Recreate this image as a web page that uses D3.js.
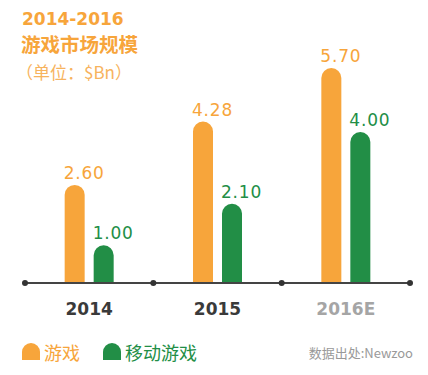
<!DOCTYPE html>
<html>
  <head>
    <meta charset="utf-8">
    <style>
    body { margin: 0; background: #fff; }
    svg text { font-family: "DejaVu Sans", "Noto Sans CJK SC", sans-serif; }
    .cjk { font-family: "Noto Sans CJK SC", sans-serif !important; }
    </style>
    <script src="https://d3js.org/d3.v7.min.js"></script>
  </head>
  <body>
    <script>
    // data
    var years = ["2014", "2015", "2016E"];
    var games = [2.60, 4.28, 5.70];
    var mobileGames = [1.00, 2.10, 4.00];
    var seriesNames = ["游戏", "移动游戏"];
    var colors = ["#F7A53B", "#228E46"];

    var width = 428, height = 375;
    var baseY = 283;

    var svg = d3.select("body").append("svg")
        .attr("width", width)
        .attr("height", height);

    var x = d3.scaleBand()
        .domain(years)
        .range([25, 410])
        .padding(0);

    var y = d3.scaleLinear()
        .domain([0, 5.70])
        .range([baseY, 68]);

    var barW = 20, gap = 9;

    // bar with a round top
    function roundBar(x0, top, w, bottom) {
      var r = w / 2;
      return "M" + x0 + "," + bottom +
        "V" + (top + r) +
        "A" + r + "," + r + " 0 0 1 " + (x0 + w) + "," + (top + r) +
        "V" + bottom + "Z";
    }

    // title
    svg.append("text").attr("x", 22).attr("y", 25)
      .style("font-size", "17px").style("font-weight", "bold")
      .style("fill", "#F7A53B").text("2014-2016");
    svg.append("text").attr("class", "cjk").attr("x", 21).attr("y", 52)
      .style("font-size", "19.5px").style("font-weight", "bold")
      .style("fill", "#F7A53B").text("游戏市场规模");
    svg.append("text").attr("class", "cjk").attr("x", 16).attr("y", 79)
      .style("font-size", "17px")
      .style("fill", "#F7B35E").text("（单位：$Bn）");

    var series = [games, mobileGames];

    series.forEach(function (vals, s) {
      var g = svg.append("g");
      g.selectAll("path")
        .data(vals)
        .enter().append("path")
        .attr("d", function (d, i) {
          var cx = x(years[i]) + x.bandwidth() / 2;
          var x0 = s === 0 ? cx - gap / 2 - barW : cx + gap / 2;
          return roundBar(x0, y(d), barW, baseY);
        })
        .style("fill", colors[s]);

      g.selectAll("text")
        .data(vals)
        .enter().append("text")
        .attr("x", function (d, i) {
          var cx = x(years[i]) + x.bandwidth() / 2;
          return (s === 0 ? cx - gap / 2 - barW : cx + gap / 2) - 1;
        })
        .attr("y", function (d) { return y(d) - 6; })
        .style("font-size", "17px")
        .style("letter-spacing", "0.8px")
        .style("fill", colors[s])
        .text(function (d) { return d.toFixed(2); });
    });

    // axis line with dots at band edges
    var edges = years.map(function (d) { return x(d); }).concat([x.range()[1]]);
    svg.append("line")
      .attr("x1", x.range()[0]).attr("x2", x.range()[1])
      .attr("y1", baseY).attr("y2", baseY)
      .style("stroke", "#444").style("stroke-width", 2);
    svg.selectAll(".dot")
      .data(edges)
      .enter().append("circle")
      .attr("cx", function (d) { return d; })
      .attr("cy", baseY)
      .attr("r", 3)
      .style("fill", "#333");

    svg.selectAll(".year")
      .data(years)
      .enter().append("text")
      .attr("x", function (d) { return x(d) + x.bandwidth() / 2; })
      .attr("y", 315)
      .attr("text-anchor", "middle")
      .style("font-size", "17px")
      .style("font-weight", "bold")
      .style("fill", function (d) { return d === "2016E" ? "#a5a5a5" : "#3a3a3a"; })
      .text(function (d) { return d; });

    // legend
    var legendX = [22, 103];
    seriesNames.forEach(function (name, s) {
      svg.append("path")
        .attr("d", roundBar(legendX[s], 343, 18, 360))
        .style("fill", colors[s]);
      svg.append("text").attr("class", "cjk")
        .attr("x", legendX[s] + 22).attr("y", 360)
        .style("font-size", "18px")
        .style("fill", colors[s])
        .text(name);
    });

    svg.append("text").attr("class", "cjk")
      .attr("x", 413).attr("y", 358)
      .attr("text-anchor", "end")
      .style("font-size", "13px")
      .style("fill", "#999")
      .text("数据出处:Newzoo");
    </script>
  </body>
</html>
